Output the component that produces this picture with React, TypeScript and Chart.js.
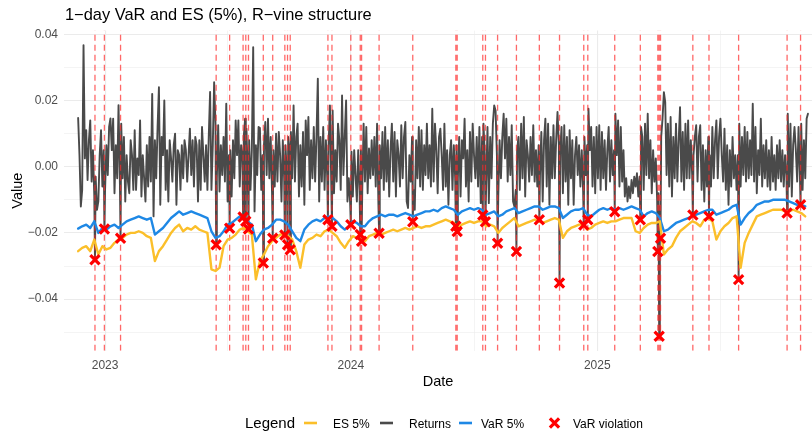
import React, { useEffect, useRef } from 'react';
import { Chart, registerables } from 'chart.js';

Chart.register(...registerables);

const FONT = "'Liberation Sans', Arial, Helvetica, sans-serif";
const TITLE = '1\u2212day VaR and ES (5%), R\u2212vine structure';
const X_TITLE = 'Date';
const Y_TITLE = 'Value';
const LEGEND_TITLE = 'Legend';
const NAME_ES = 'ES 5%';
const NAME_RET = 'Returns';
const NAME_VAR = 'VaR 5%';
const NAME_VIOL = 'VaR violation';

const COLOR_ES = '#FBBF2A';
const COLOR_RET = '#4A4A4A';
const COLOR_VAR = '#1E88E5';
const COLOR_VIOL = '#FF0000';
const COLOR_VLINE = 'rgba(255,40,40,0.7)';

// x values are days since 2023-01-01
const YEAR_BREAK_DAYS = [0, 365, 731];
const YEAR_LABELS = ['2023', '2024', '2025'];
const MINOR_BREAK_DAYS = [182.5, 548, 913.5];
const X_LIMITS = [-61, 1050];
const Y_MAJOR_BREAKS = [-0.04, -0.02, 0, 0.02, 0.04];
const Y_MINOR_BREAKS = [-0.05, -0.03, -0.01, 0.01, 0.03];
const Y_LIMITS = [-0.0556, 0.0411];

// daily returns (in %), one value every 2 days from day -40
const RETURNS_FIRST_DAY = -40;
const RETURNS_STEP_DAYS = 2;
const RETURNS_PCT = [
  1.47, 0.35, -1.2, -0.7, 3.67, 0.25, 1.1, -0.4, 0.8, 1.4,
  -0.45, 0.5, -0.9, -0.3, -1.3, -1.05, 0.35, 1.1, -0.6, 0.5,
  -0.7, 0.65, -0.25, 1.2, 1.46, 0.5, 1.45, -0.8, 0.65, -0.35,
  1.86, -0.45, 1.3, -0.35, 0.9, -1.05, 0.35, -0.45, -0.8, 0.8,
  0.35, -0.7, 1.1, -0.7, 0.25, -0.25, 1.4, -0.9, 0.35, -0.35,
  -1.05, 0.65, -0.6, 0.9, -0.45, 2.2, -1.5, 0.8, -0.35, 1.2,
  2.4, -1.15, 0.9, 0.35, 2.0, -0.7, 0.5, -1.05, 0.8, 0.25,
  -0.45, 0.65, 1.0, -1.15, 0.5, 0.35, -0.7, 0.65, -0.35, 0.8,
  0.5, -0.45, 0.35, 1.15, -0.25, 0.8, -0.6, 0.9, 0.65, -1.05,
  0.8, -0.7, 1.2, 0.35, -0.45, 0.65, -0.7, 0.9, 2.26, -0.7,
  0.65, 2.55, 1.3, -0.35, 1.25, -0.75, 0.65, -0.25, 0.9, -0.45,
  1.9, -1.05, 0.35, 0.5, -0.9, 0.8, -0.35, 1.4, 0.35, 1.4,
  -0.6, 0.65, 0.35, 0.9, 1.45, 1.15, -0.35, 0.8, -0.7, 0.5,
  3.61, -1.35, 0.65, -0.25, 1.2, 1.17, -0.7, 0.35, 0.65, 1.35,
  -0.25, 1.45, -0.35, 0.9, -0.8, 0.5, -0.6, 1.0, -0.45, 1.05,
  0.35, -1.05, 0.8, -0.35, 0.65, -0.25, 0.9, 0.5, 1.05, -0.35,
  1.85, -0.45, 0.9, 1.3, -0.9, 0.65, -0.6, 1.05, -1.15, 1.4,
  0.35, 1.5, -0.7, 0.8, -0.35, 1.2, -0.45, 0.9, 2.66, -1.05,
  0.9, -0.45, 1.2, -0.7, 0.8, -0.35, 0.65, 1.85, -0.6, 1.7,
  -0.8, 0.5, -0.45, 1.3, 0.8, -0.7, 2.15, -0.25, 0.9, 2.0,
  -1.05, -0.35, -1.1, 0.45, -0.9, 0.5, -0.25, -1.05, 0.5, -0.7,
  0.5, -0.7, 1.3, -0.45, 1.2, -0.8, 0.55, -0.35, 0.8, -0.25,
  0.9, -0.6, 1.3, -1.15, 0.65, -0.35, 1.05, -0.7, 1.2, -0.45,
  0.8, -0.9, 0.5, 1.3, -0.45, 1.05, -0.9, 0.8, 0.35, -0.6,
  1.25, -0.35, 0.9, 1.35, -1.05, -1.25, 0.35, -0.45, 0.9, -0.7,
  -1.3, 0.8, -0.35, 1.2, -0.6, 1.1, -0.7, 0.65, -0.25, 1.3,
  -0.35, 0.65, -0.6, 1.75, -0.45, 1.3, 0.5, -0.8, 0.9, 1.15,
  0.35, -0.7, 1.3, -0.6, 0.5, -1.15, 0.35, 0.8, -0.7, 0.65,
  -0.35, 0.65, -0.35, 0.9, -0.9, 0.8, 0.25, 1.45, -0.6, 0.5,
  -1.05, 1.05, -0.45, 1.3, 0.35, -0.35, 0.9, -0.6, 1.2, -1.1,
  0.9, 1.3, 0.35, -0.6, 1.2, -1.1, 0.9, -0.35, 1.3, 1.85,
  1.7, 0.35, -0.9, 0.8, -0.35, 0.9, 1.6, 0.25, 1.45, -0.45,
  0.9, -0.25, 1.25, -1.05, -1.2, -0.7, 0.5, 0.9, -0.7, 1.3,
  -0.35, 1.5, -0.9, 0.8, 0.35, -0.45, 0.9, -0.25, 1.25, -0.45,
  0.5, -0.6, 0.65, -0.25, 1.05, -1.05, 0.8, 1.45, -0.6, 1.3,
  -1.15, 0.9, -0.35, 1.25, -0.35, 0.8, 1.65, 0.65, 0.5, 1.2,
  -0.8, 1.25, -0.45, 0.9, -1.15, 1.1, -0.35, 0.8, -1.15, 0.35,
  0.9, -0.25, 0.65, -0.6, 0.5, -0.7, 0.9, -0.25, 0.65, 1.75,
  0.5, 1.2, -0.6, 0.9, -0.8, 1.2, -0.35, 1.25, -0.7, 1.05,
  -0.35, 0.8, -0.7, 0.5, 1.2, -0.45, 0.8, -0.25, 0.5, 1.6,
  0.35, 1.4, -0.6, 1.2, -0.45, 0.5, -0.9, -0.35, -1.05, -0.6,
  -0.95, -0.4, -0.8, -0.3, -0.6, -0.2, -0.9, -0.3, 1.2, 0.9,
  -0.7, 1.3, -0.25, 1.6, -0.35, 0.8, -0.8, 0.5, -0.45, 0.25,
  -1.0, -0.8, -1.2, 0.9, 1.45, 2.25, 1.95, -0.25, 1.3, -0.6,
  1.5, -0.9, 0.9, -0.35, 1.3, -0.45, 0.8, 1.8, -0.45, 1.05,
  -0.7, 1.3, -0.35, 1.4, -0.35, 0.8, -0.25, 0.35, 0.9, 1.25,
  -0.45, 0.9, 1.25, -0.7, 0.65, -1.05, 0.5, -0.6, 0.9, 0.35,
  -0.6, 1.2, -0.35, 0.8, 1.4, -0.35, 0.9, 1.45, 0.35, -0.45,
  1.15, -0.7, 0.65, -1.15, 0.5, -0.6, 0.9, -0.35, 0.35, -0.7,
  0.35, 1.3, -0.6, 0.9, -0.25, 1.2, -0.45, 1.05, -0.35, 0.8,
  -0.25, 1.9, -0.45, 1.2, -0.8, 0.5, -0.25, 1.45, -0.6, 0.65,
  -0.35, 0.8, -0.6, 0.5, -0.7, 0.9, -0.45, 0.35, -0.7, 0.65,
  -0.35, 0.8, -0.45, 0.5, -0.6, 0.35, -0.25, 1.6, -0.6, 1.3,
  -0.9, 0.65, 1.2, 0.5, -0.45, 1.2, -0.25, 1.3, -0.7, 0.8,
  -0.35, 1.45, 1.6,
];

// VaR / ES (in %), one value every 6 days from day -40
const RISK_FIRST_DAY = -40;
const RISK_STEP_DAYS = 6;
const VAR5_PCT = [
  -1.87, -1.80, -1.75, -1.85, -1.65, -2.00, -1.85, -1.90, -1.80, -1.75,
  -1.85, -1.75, -1.65, -1.60, -1.55, -1.50, -1.55, -1.60, -1.55, -2.05,
  -1.95, -1.85, -1.70, -1.55, -1.45, -1.35, -1.45, -1.40, -1.35, -1.40,
  -1.45, -1.50, -1.55, -1.95, -2.15, -2.10, -1.95, -1.75, -1.70, -1.60,
  -1.50, -1.55, -1.65, -1.75, -2.25, -2.05, -1.90, -1.85, -1.75, -1.60,
  -1.60, -1.65, -1.75, -1.95, -2.15, -2.25, -1.90, -1.75, -1.65, -1.60,
  -1.65, -1.55, -1.50, -1.55, -1.65, -1.80, -1.90, -1.80, -1.65, -1.70,
  -1.80, -1.80, -1.65, -1.55, -1.50, -1.45, -1.50, -1.45, -1.45, -1.50,
  -1.45, -1.40, -1.45, -1.50, -1.45, -1.40, -1.35, -1.35, -1.30, -1.35,
  -1.25, -1.20, -1.25, -1.30, -1.45, -1.35, -1.30, -1.25, -1.30, -1.25,
  -1.30, -1.45, -1.40, -1.35, -1.50, -1.45, -1.35, -1.30, -1.25, -1.40,
  -1.35, -1.30, -1.25, -1.20, -1.20, -1.30, -1.25, -1.20, -1.20, -1.25,
  -1.55, -1.45, -1.35, -1.30, -1.30, -1.25, -1.45, -1.50, -1.40, -1.30,
  -1.25, -1.30, -1.25, -1.30, -1.25, -1.30, -1.25, -1.20, -1.25, -1.30,
  -1.50, -1.40, -1.35, -1.40, -1.55, -1.95, -1.90, -1.80, -1.70, -1.65,
  -1.60, -1.55, -1.50, -1.45, -1.40, -1.35, -1.30, -1.30, -1.45, -1.40,
  -1.35, -1.30, -1.20, -1.15, -1.75, -1.55, -1.40, -1.30, -1.15, -1.10,
  -1.05, -1.05, -1.00, -1.00, -1.00, -1.00, -1.05, -1.10, -1.15, -1.15,
  -1.20,
];
const ES5_PCT = [
  -2.55, -2.45, -2.40, -2.55, -2.20, -2.65, -2.40, -2.50, -2.45, -2.30,
  -2.20, -2.15, -2.05, -2.00, -2.00, -1.95, -2.00, -2.10, -2.15, -2.85,
  -2.55, -2.40, -2.20, -2.00, -1.85, -1.75, -1.95, -1.85, -1.90, -1.80,
  -1.90, -1.95, -2.00, -3.10, -3.15, -3.05, -2.40, -2.20, -2.15, -2.05,
  -1.90, -1.85, -1.95, -2.05, -3.40, -2.85, -2.65, -2.40, -2.25, -2.15,
  -2.05, -2.05, -2.10, -2.20, -2.55, -3.05, -2.35, -2.20, -2.15, -2.05,
  -2.10, -1.95, -1.90, -2.00, -2.10, -2.30, -2.45, -2.25, -2.10, -2.15,
  -2.20, -2.25, -2.10, -2.05, -2.00, -2.05, -2.00, -1.95, -1.90, -1.95,
  -1.90, -1.85, -1.90, -1.85, -1.80, -1.85, -1.80, -1.80, -1.75, -1.70,
  -1.65, -1.60, -1.65, -1.70, -1.85, -1.75, -1.70, -1.65, -1.70, -1.65,
  -1.65, -1.80, -1.75, -1.80, -2.00, -1.85, -1.75, -1.65, -1.55, -1.80,
  -1.75, -1.70, -1.65, -1.60, -1.65, -1.70, -1.65, -1.60, -1.55, -1.60,
  -2.15, -1.95, -1.85, -1.80, -1.75, -1.75, -1.90, -1.85, -1.75, -1.70,
  -1.65, -1.70, -1.65, -1.65, -1.60, -1.55, -1.55, -1.55, -1.95, -2.00,
  -1.85, -1.75, -1.70, -1.70, -1.65, -2.65, -2.50, -2.40, -2.15, -1.95,
  -1.85, -1.75, -1.65, -1.70, -1.80, -1.60, -1.55, -1.65, -2.20, -1.95,
  -1.80, -1.70, -1.55, -1.50, -3.05, -2.30, -2.00, -1.75, -1.50, -1.45,
  -1.40, -1.35, -1.30, -1.30, -1.30, -1.35, -1.35, -1.30, -1.35, -1.40,
  -1.50,
];

// VaR violations: day and return (in %)
const VIOLATION_DAYS = [
  -15, -1, 23, 165, 185, 205, 209, 213, 235, 249,
  267, 271, 275, 331, 337, 365, 379, 381, 407, 457,
  521, 523, 561, 565, 583, 611, 645, 675, 711, 717,
  757, 795, 821, 823, 825, 873, 897, 941, 1013, 1033,
];
const VIOLATION_PCT = [
  -2.81, -1.88, -2.16, -2.36, -1.86, -1.52, -1.65, -1.88, -2.91, -2.16,
  -2.06, -2.36, -2.51, -1.60, -1.80, -1.75, -2.05, -2.25, -2.01, -1.66,
  -1.80, -1.96, -1.46, -1.66, -2.31, -2.56, -1.60, -3.51, -1.76, -1.60,
  -1.36, -1.60, -2.56, -5.12, -2.16, -1.46, -1.50, -3.41, -1.40, -1.15,
];

const near = (arr: number[], v: number) => arr.some((b) => Math.abs(b - v) < 1e-9);
const fmtY = (v: number) => {
  const s = Math.abs(v).toFixed(2);
  return v < -1e-9 ? '\u2212' + s : s;
};

const ggLegendPlugin = {
  id: 'ggTitleLegend',
  afterDraw(chart: any) {
    const ctx = chart.ctx as CanvasRenderingContext2D;
    ctx.save();
    ctx.fillStyle = '#000';
    ctx.textAlign = 'left';
    ctx.textBaseline = 'alphabetic';
    ctx.font = `16.4px ${FONT}`;
    ctx.fillText(TITLE, 65, 20);

    const cy = 423;
    ctx.font = `15px ${FONT}`;
    ctx.fillText(LEGEND_TITLE, 245, 428);
    ctx.font = `12px ${FONT}`;
    const lineKeys: [string, string, number, number][] = [
      [NAME_ES, COLOR_ES, 304, 333],
      [NAME_RET, COLOR_RET, 380, 409],
      [NAME_VAR, COLOR_VAR, 459, 481],
    ];
    lineKeys.forEach(([name, color, kx, tx]) => {
      ctx.strokeStyle = color;
      ctx.lineWidth = 2.6;
      ctx.lineCap = 'butt';
      ctx.beginPath();
      ctx.moveTo(kx, cy);
      ctx.lineTo(kx + 13, cy);
      ctx.stroke();
      ctx.fillStyle = '#000';
      ctx.fillText(name, tx, 427.5);
    });
    const mx = 554.5;
    const r = 4.6;
    ctx.strokeStyle = COLOR_VIOL;
    ctx.lineWidth = 3.2;
    ctx.beginPath();
    ctx.moveTo(mx - r, cy - r);
    ctx.lineTo(mx + r, cy + r);
    ctx.moveTo(mx - r, cy + r);
    ctx.lineTo(mx + r, cy - r);
    ctx.stroke();
    ctx.fillStyle = '#000';
    ctx.fillText(NAME_VIOL, 573, 427.5);
    ctx.restore();
  },
};

export default function App() {
  const ref = useRef<HTMLCanvasElement | null>(null);

  useEffect(() => {
    document.body.style.margin = '0';
    const canvas = ref.current;
    if (!canvas) return;
    Chart.defaults.font.family = FONT;

    const retPoints = RETURNS_PCT.map((v, i) => ({ x: RETURNS_FIRST_DAY + i * RETURNS_STEP_DAYS, y: v / 100 }));
    const violPoints = VIOLATION_DAYS.map((d, i) => ({ x: d, y: VIOLATION_PCT[i] / 100 }));
    const returnsLine = [...retPoints, ...violPoints].sort((a, b) => a.x - b.x);
    const varLine = VAR5_PCT.map((v, i) => ({ x: RISK_FIRST_DAY + i * RISK_STEP_DAYS, y: v / 100 }));
    const esLine = ES5_PCT.map((v, i) => ({ x: RISK_FIRST_DAY + i * RISK_STEP_DAYS, y: v / 100 }));
    const vlines: { x: number; y: number | null }[] = [];
    VIOLATION_DAYS.forEach((d) => {
      vlines.push({ x: d, y: Y_LIMITS[0] }, { x: d, y: Y_LIMITS[1] }, { x: d, y: null });
    });

    const chart = new Chart(canvas, {
      type: 'line',
      data: {
        datasets: [
          {
            label: NAME_VIOL,
            data: violPoints,
            showLine: false,
            pointStyle: 'crossRot',
            pointRadius: 6.5,
            pointBorderWidth: 3.2,
            pointBorderColor: COLOR_VIOL,
            pointBackgroundColor: COLOR_VIOL,
            order: 0,
          } as any,
          {
            label: NAME_ES,
            data: esLine,
            borderColor: COLOR_ES,
            borderWidth: 2.4,
            pointRadius: 0,
            borderJoinStyle: 'round',
            borderCapStyle: 'round',
            order: 1,
          },
          {
            label: NAME_VAR,
            data: varLine,
            borderColor: COLOR_VAR,
            borderWidth: 2.4,
            pointRadius: 0,
            borderJoinStyle: 'round',
            borderCapStyle: 'round',
            order: 2,
          },
          {
            label: 'violation lines',
            data: vlines,
            borderColor: COLOR_VLINE,
            borderWidth: 1.3,
            borderDash: [6, 4],
            pointRadius: 0,
            spanGaps: false,
            order: 3,
          } as any,
          {
            label: NAME_RET,
            data: returnsLine,
            borderColor: COLOR_RET,
            borderWidth: 1.9,
            pointRadius: 0,
            borderJoinStyle: 'round',
            borderCapStyle: 'round',
            order: 4,
          },
        ],
      },
      options: {
        animation: false,
        responsive: false,
        devicePixelRatio: 1,
        events: [],
        layout: { autoPadding: false, padding: { top: 30.6, right: 0, bottom: 36, left: 0 } },
        plugins: {
          legend: { display: false },
          title: { display: false },
          tooltip: { enabled: false },
        },
        scales: {
          x: {
            type: 'linear',
            min: X_LIMITS[0],
            max: X_LIMITS[1],
            afterBuildTicks: (s: any) => {
              s.ticks = [...YEAR_BREAK_DAYS, ...MINOR_BREAK_DAYS].sort((a, b) => a - b).map((value) => ({ value }));
            },
            afterFit: (s: any) => {
              s.height = 44.2;
            },
            ticks: {
              autoSkip: false,
              maxRotation: 0,
              padding: 8,
              color: '#4D4D4D',
              font: { size: 12 },
              callback: (v: any) => {
                const i = YEAR_BREAK_DAYS.indexOf(Number(v));
                return i >= 0 ? YEAR_LABELS[i] : '';
              },
            },
            grid: {
              color: '#EBEBEB',
              lineWidth: (c: any) => (c.tick && near(YEAR_BREAK_DAYS, c.tick.value) ? 1.1 : 0.55),
              drawTicks: false,
            },
            border: { display: false },
            title: {
              display: true,
              text: X_TITLE,
              color: '#000',
              font: { size: 14.5 },
              padding: { top: 0, bottom: 4 },
            },
          },
          y: {
            type: 'linear',
            min: Y_LIMITS[0],
            max: Y_LIMITS[1],
            afterBuildTicks: (s: any) => {
              s.ticks = [...Y_MINOR_BREAKS, ...Y_MAJOR_BREAKS].sort((a, b) => a - b).map((value) => ({ value }));
            },
            afterFit: (s: any) => {
              s.width = 64;
            },
            ticks: {
              autoSkip: false,
              padding: 6,
              color: '#4D4D4D',
              font: { size: 12 },
              callback: (v: any) => (near(Y_MAJOR_BREAKS, Number(v)) ? fmtY(Number(v)) : ''),
            },
            grid: {
              color: '#EBEBEB',
              lineWidth: (c: any) => (c.tick && near(Y_MAJOR_BREAKS, c.tick.value) ? 1.1 : 0.55),
              drawTicks: false,
            },
            border: { display: false },
            title: {
              display: true,
              text: Y_TITLE,
              color: '#000',
              font: { size: 14.5 },
              padding: { top: 9, bottom: 0 },
            },
          },
        },
      } as any,
      plugins: [ggLegendPlugin],
    });

    return () => chart.destroy();
  }, []);

  return (
    <div style={{ width: 812, height: 431, background: '#fff' }}>
      <canvas ref={ref} width={812} height={431} style={{ display: 'block' }} />
    </div>
  );
}
